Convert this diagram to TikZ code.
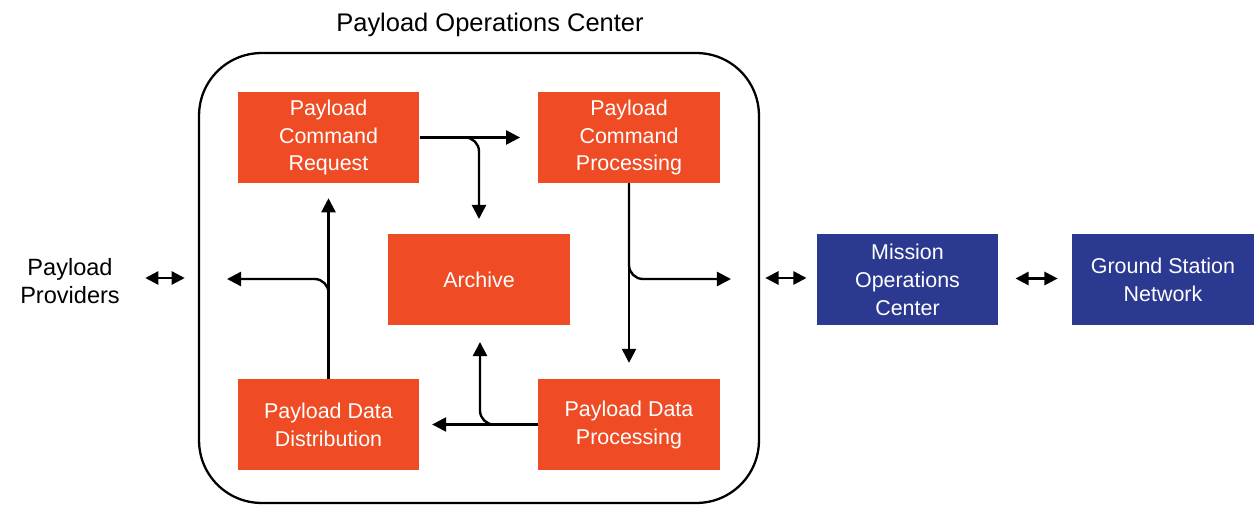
\documentclass[tikz,border=0pt]{standalone}
\usepackage{fontspec}
\setmainfont{Liberation Sans}
\usetikzlibrary{arrows.meta}
\definecolor{pocorange}{HTML}{EF4B24}
\definecolor{mocblue}{HTML}{2B3990}
\tikzset{
  box/.style={minimum width=3.64cm, minimum height=1.82cm, inner sep=0pt,
    align=center, text=white, font=\fontsize{12.2}{15.9}\selectfont},
  orangebox/.style={box, fill=pocorange},
  bluebox/.style={box, fill=mocblue},
  flow/.style={line width=1.35pt, -{Triangle[length=8pt,width=8pt]}},
  branch/.style={flow, rounded corners=0.28cm},
  twoway/.style={line width=1.35pt, {Triangle[length=7.5pt,width=7.5pt]}-{Triangle[length=7.5pt,width=7.5pt]}},
}
\begin{document}
\begin{tikzpicture}[x=0.02cm, y=-0.02cm]
\useasboundingbox (0,0) rectangle (1254,506);

% Payload Operations Center enclosure
\node[draw, line width=1.3pt, rounded corners=1.25cm, minimum width=11.2cm,
      minimum height=9cm, inner sep=0pt] (poc) at (479,278) {};
\node[font=\fontsize{14.5}{17}\selectfont] (poctitle) at (490,25) {Payload Operations Center};

% functional blocks
\node[orangebox] (pcr) at (328.5,137.5) {Payload\\Command\\Request};
\node[orangebox] (pcp) at (629,137.5) {Payload\\Command\\Processing};
\node[orangebox] (arch) at (479,279.5) {Archive};
\node[orangebox] (pdd) at (328.5,424.5) {Payload Data\\Distribution};
\node[orangebox] (pdp) at (629,424.5) {Payload Data\\Processing};

% external entities
\node[bluebox] (moc) at (907.5,279.5) {Mission\\Operations\\Center};
\node[bluebox] (gsn) at (1163,279.5) {Ground Station\\Network};
\node[align=center, font=\fontsize{13.4}{15.9}\selectfont] (prov) at (70,281) {Payload\\Providers};

% free ends of the branching flows
\coordinate (toarch) at (479,219);
\coordinate (toout) at (731,279);
\coordinate (fromdp) at (480,342);
\coordinate (toin) at (227,279);

% command path
\draw[flow, shorten >=10pt] (pcr.east) -- (pcp.west);
\draw[branch] (pcr.east) -| (toarch);
\draw[flow, shorten >=9pt] (pcp.south) -- (pdp.north);
\draw[branch] (pcp.south) |- (toout);

% data path
\draw[flow, shorten >=7pt] (pdp.west) -- (pdd.east);
\draw[branch] (pdp.west) -| (fromdp);
\draw[flow, shorten >=8.5pt] (pdd.north) -- (pcr.south);
\draw[branch] (pdd.north) |- (toin);

% external interfaces
\draw[twoway, shorten <=11pt, shorten >=7.5pt] (prov.east |- poc.west) -- (poc.west);
\draw[twoway, shorten <=3pt, shorten >=5.5pt] (poc.east) -- (poc.east -| moc.west);
\draw[twoway, shorten <=9.5pt, shorten >=8pt] ([yshift=0.02cm]moc.east) -- ([yshift=0.02cm]gsn.west);
\end{tikzpicture}
\end{document}
